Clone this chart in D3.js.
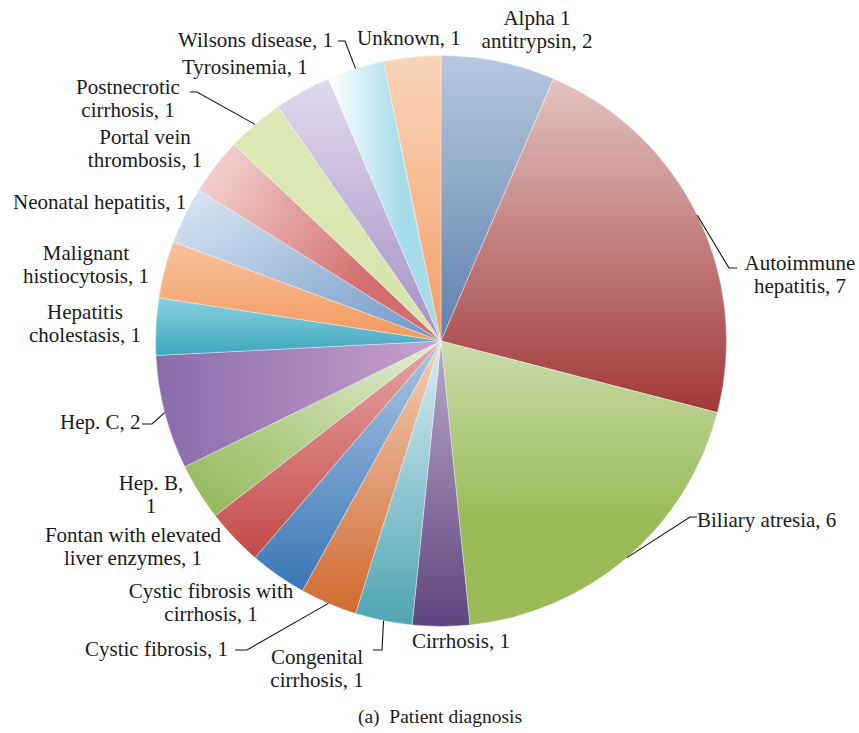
<!DOCTYPE html>
<html><head><meta charset="utf-8">
<script src="https://cdn.jsdelivr.net/npm/d3@7"></script>
<style>
html,body{margin:0;padding:0;background:#fff;}
svg text{font-family:"Liberation Serif","Times New Roman",serif;fill:#1a1a1a;}
</style></head>
<body>
<svg id="chart" width="859" height="733"></svg>
<script>
// ---- data ----
const categories = ["Alpha 1 antitrypsin","Autoimmune hepatitis","Biliary atresia","Cirrhosis","Congenital cirrhosis","Cystic fibrosis","Cystic fibrosis with cirrhosis","Fontan with elevated liver enzymes","Hep. B","Hep. C","Hepatitis cholestasis","Malignant histiocytosis","Neonatal hepatitis","Portal vein thrombosis","Postnecrotic cirrhosis","Tyrosinemia","Wilsons disease","Unknown"];
const values = [2,7,6,1,1,1,1,1,1,2,1,1,1,1,1,1,1,1];
const caption = "(a)\u00a0\u00a0Patient diagnosis";
// words in first line of each label (0 = single line)
const labelBreak = [2,1,0,0,1,0,3,3,2,0,1,1,0,2,1,0,0,0];

// ---- styles ----
const lightColors = ["#b7c8de","#e4c3c2","#c9dcaa","#b9a9c9","#d8edf1","#f2cfb8","#abc6e3","#e6a4a4","#dbe9c8","#c8a1cd","#8ad0de","#f8c29e","#dde7f3","#f3d0d0","#dde9b6","#e2daee","#ffffff","#f9d5ba"];
const darkColors  = ["#5e81ad","#a0383a","#9bbb59","#5f4580","#4fa5b5","#d06a30","#3a76b6","#c44a4a","#99bb5f","#896aab","#3fa7c0","#f3995d","#6e96c6","#d46e6e","#d6e5ab","#a68ec3","#a6dcea","#f39e64"];
const darkStop    = [1,1,0.62,1,1,1,1,1,1,1,1,1,1,1,1,1,1,1];
const gradDir = [[0,0,0,1],[0,0,0,1],[0,0,0,1],[0,0,0,1],[0,0,0,1],[0,0,0,1],[0,0,0,1],[0,0,0,1],
                 [1,0.2,0.2,1],[1,0,0,0],[0,0,0,1],[0,0,0,1],[0,0,1,1],[0,0.2,0.75,0.6],[0,0,0,1],[0,0,0,1],[0,0,0.65,0],[0,0,0,1]];
// label layout: [x, first baseline, anchor, leaderElbowX, leaderElbowY, leaderEndX] (null = no leader)
const labelLayout = [
  [537,25,"middle"],
  [800,270,"middle",729,268,737],
  [697,527,"start",690,517,697],
  [412,648,"start"],
  [317,664,"middle",382,650,373],
  [85,656,"start",247,650,235],
  [211,598,"middle"],
  [133,542,"middle"],
  [151,490,"middle"],
  [60,429,"start",152,424,142],
  [85,319,"middle"],
  [86,260,"middle"],
  [13,209,"start"],
  [145,144,"middle"],
  [128,94,"middle",197,92,190],
  [182,74,"start"],
  [178,47,"start",345,41,338],
  [357,45,"start"]
];

const svg = d3.select("#chart");
const cx = 441, cy = 341, R = 285.5;
const lineH = 23;

const defs = svg.append("defs");
categories.forEach((c,i)=>{
  const g = defs.append("linearGradient").attr("id","g"+i)
    .attr("x1",gradDir[i][0]).attr("y1",gradDir[i][1]).attr("x2",gradDir[i][2]).attr("y2",gradDir[i][3]);
  g.append("stop").attr("offset",0).attr("stop-color",lightColors[i]);
  g.append("stop").attr("offset",darkStop[i]).attr("stop-color",darkColors[i]);
});

const pie = d3.pie().sort(null).value(d=>d.v).startAngle(0).endAngle(2*Math.PI);
const data = categories.map((c,i)=>({c, v: values[i], i}));
const arcs = pie(data);
const arc = d3.arc().innerRadius(0).outerRadius(R);

const gPie = svg.append("g").attr("transform",`translate(${cx},${cy})`);
gPie.selectAll("path").data(arcs).join("path")
  .attr("d",arc)
  .attr("fill",d=>`url(#g${d.data.i})`)
  .attr("stroke","rgba(255,255,255,0.6)")
  .attr("stroke-width",0.6);

// leader lines
arcs.forEach(d=>{
  const L = labelLayout[d.data.i];
  if (L.length < 4) return;
  const a = (d.startAngle + d.endAngle)/2;
  const px = cx + R*Math.sin(a), py = cy - R*Math.cos(a);
  svg.append("polyline")
    .attr("points",`${px},${py} ${L[3]},${L[4]} ${L[5]},${L[4]}`)
    .attr("fill","none").attr("stroke","#111").attr("stroke-width",1.1);
});

// labels
arcs.forEach(d=>{
  const i = d.data.i, L = labelLayout[i];
  const full = `${d.data.c}, ${d.data.v}`;
  const words = full.split(" ");
  const lines = labelBreak[i] ? [words.slice(0,labelBreak[i]).join(" "), words.slice(labelBreak[i]).join(" ")] : [full];
  const t = svg.append("text").attr("x",L[0]).attr("y",L[1]).attr("text-anchor",L[2]).style("font-size","21px");
  lines.forEach((ln,k)=>{
    t.append("tspan").attr("x",L[0]).attr("dy",k? lineH:0).text(ln);
  });
});

svg.append("text").attr("x",440).attr("y",723).attr("text-anchor","middle")
  .style("font-size","19.5px").text(caption);
</script>
</body></html>
